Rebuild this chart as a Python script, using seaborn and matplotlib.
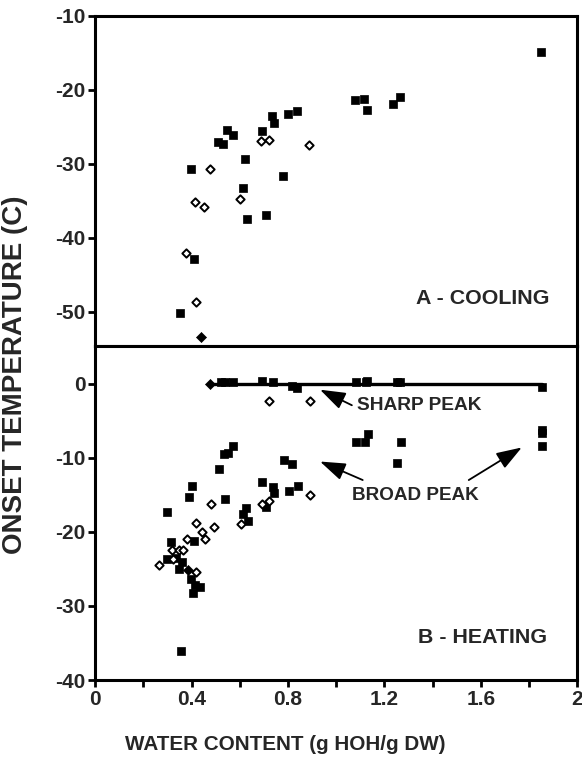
import matplotlib
matplotlib.use("Agg")
import matplotlib.pyplot as plt
import seaborn as sns
import pandas as pd
from matplotlib.ticker import MultipleLocator

sns.set_theme(style="ticks")
plt.rcParams['font.family'] = ['Liberation Sans', 'DejaVu Sans']

# ---------------- Panel A - cooling ----------------
a_sq_x = [0.398, 0.511, 0.532, 0.546, 0.571, 0.623, 0.613, 0.691, 0.735, 0.741,
          0.781, 0.800, 0.839, 0.628, 0.707, 0.411, 0.352,
          1.079, 1.117, 1.127, 1.237, 1.265, 1.850]
a_sq_y = [-30.7, -27.0, -27.3, -25.4, -26.1, -29.3, -33.2, -25.5, -23.5, -24.5,
          -31.6, -23.2, -22.8, -37.4, -36.9, -42.8, -50.2,
          -21.4, -21.2, -22.7, -21.9, -21.0, -14.9]
a_op_x = [0.476, 0.687, 0.720, 0.888, 0.414, 0.450, 0.602, 0.378, 0.417]
a_op_y = [-30.7, -26.9, -26.8, -27.4, -35.1, -35.8, -34.7, -42.0, -48.6]
a_fd_x = [0.439]
a_fd_y = [-53.4]

# ---------------- Panel B - heating ----------------
b_sq_x = [0.523, 0.539, 0.571, 0.692, 0.736, 0.815, 0.839,
          1.082, 1.124, 1.129, 1.251, 1.264, 1.853,
          1.082, 1.120, 1.131, 1.269, 1.251, 1.855, 1.855, 1.855,
          0.573, 0.536, 0.550, 0.515, 0.785, 0.817, 0.402, 0.391,
          0.694, 0.738, 0.743, 0.804, 0.842, 0.539, 0.298, 0.626,
          0.615, 0.634, 0.709, 0.411, 0.316, 0.297, 0.335, 0.359,
          0.349, 0.396, 0.414, 0.436, 0.406, 0.356]
b_sq_y = [0.3, 0.3, 0.3, 0.4, 0.3, -0.3, -0.6,
          0.3, 0.2, 0.4, 0.3, 0.3, -0.4,
          -7.8, -7.8, -6.8, -7.9, -10.7, -6.2, -6.7, -8.4,
          -8.4, -9.5, -9.4, -11.5, -10.3, -10.9, -13.8, -15.3,
          -13.3, -13.9, -14.8, -14.5, -13.8, -15.5, -17.3, -16.8,
          -17.6, -18.5, -16.7, -21.2, -21.4, -23.6, -23.5, -24.0,
          -25.0, -26.3, -27.2, -27.5, -28.3, -36.1]
b_op_x = [0.722, 0.891, 0.481, 0.691, 0.723, 0.891, 0.418, 0.493, 0.605,
          0.442, 0.454, 0.382, 0.319, 0.346, 0.366, 0.322, 0.265, 0.420]
b_op_y = [-2.3, -2.3, -16.3, -16.3, -15.8, -15.0, -18.8, -19.3, -18.9,
          -20.0, -20.9, -20.9, -22.4, -22.4, -22.5, -23.7, -24.5, -25.4]
b_fd_x = [0.477, 0.386]
b_fd_y = [0.0, -25.1]
sharp_x = [0.477, 1.853]
sharp_y = [0.0, 0.0]

x_tick_labels = ["0", "0.4", "0.8", "1.2", "1.6", "2"]
a_yticks = [-10, -20, -30, -40, -50]
b_yticks = [0, -10, -20, -30, -40]

W, H = 582, 757
fig = plt.figure(figsize=(W / 100, H / 100), dpi=100)
left = 95.2 / W
width = 482 / W
axA = fig.add_axes([left, 1 - 346 / H, width, 330 / H])
axB = fig.add_axes([left, 1 - 680 / H, width, 334 / H])

sq_kw = dict(marker='s', color='black', s=38, edgecolor='black', linewidth=0.5, legend=False, zorder=3)
op_kw = dict(marker='D', color='white', s=18, edgecolor='black', linewidth=1.4, legend=False, zorder=3)
fd_kw = dict(marker='D', color='black', s=26, edgecolor='black', linewidth=0.5, legend=False, zorder=3)

sns.scatterplot(x=a_sq_x, y=a_sq_y, ax=axA, **sq_kw)
sns.scatterplot(x=a_op_x, y=a_op_y, ax=axA, **op_kw)
sns.scatterplot(x=a_fd_x, y=a_fd_y, ax=axA, **fd_kw)

sns.lineplot(x=sharp_x, y=sharp_y, ax=axB, color='black', linewidth=2.4, zorder=2)
sns.scatterplot(x=b_sq_x, y=b_sq_y, ax=axB, **sq_kw)
sns.scatterplot(x=b_op_x, y=b_op_y, ax=axB, **op_kw)
sns.scatterplot(x=b_fd_x, y=b_fd_y, ax=axB, **fd_kw)

for ax in (axA, axB):
    ax.set_xlim(0, 2)
    ax.xaxis.set_major_locator(MultipleLocator(0.2))
    for sp in ax.spines.values():
        sp.set_linewidth(2.2)
        sp.set_color('black')
        sp.set_visible(True)
    ax.tick_params(direction='out', length=5, width=2, color='black',
                   labelsize=15, pad=2)

axA.set_ylim(-54.6, -10)
axA.set_yticks(a_yticks)
axA.set_yticklabels([str(v) for v in a_yticks], fontweight='bold', fontsize=15)
axA.tick_params(axis='x', labelbottom=False)

axB.set_ylim(-40, 5.1)
axB.set_yticks(b_yticks)
axB.set_yticklabels([str(v) for v in b_yticks], fontweight='bold', fontsize=15)
axB.set_xticks([i * 0.2 for i in range(11)])
axB.set_xticklabels([x_tick_labels[i // 2] if i % 2 == 0 else "" for i in range(11)],
                    fontweight='bold', fontsize=15)

axA.text(1.887, -48.2, "A - COOLING", ha='right', va='center', fontsize=15.4, fontweight='bold')
axB.text(1.875, -34.2, "B - HEATING", ha='right', va='center', fontsize=15.4, fontweight='bold')

arrow = dict(arrowstyle='-|>,head_length=1.3,head_width=0.45', color='black',
             lw=1.3, shrinkA=0, shrinkB=0)
axB.text(1.086, -3.0, "SHARP PEAK", ha='left', va='center', fontsize=13.8, fontweight='bold')
axB.annotate("", xy=(0.933, -0.8), xytext=(1.065, -2.9), arrowprops=arrow)
axB.text(1.065, -15.1, "BROAD PEAK", ha='left', va='center', fontsize=13.6, fontweight='bold')
axB.annotate("", xy=(0.933, -10.5), xytext=(1.11, -13.0), arrowprops=arrow)
axB.annotate("", xy=(1.77, -8.6), xytext=(1.55, -13.0), arrowprops=arrow)

fig.text(285 / W, 1 - 744 / H, "WATER CONTENT (g HOH/g DW)", ha='center', va='center',
         fontsize=14.9, fontweight='bold')
fig.text(15.5 / W, 1 - 375 / H, "ONSET TEMPERATURE (C)", rotation=90,
         ha='center', va='center', fontsize=20, fontweight='bold')

fig.savefig("out.png", dpi=100)
